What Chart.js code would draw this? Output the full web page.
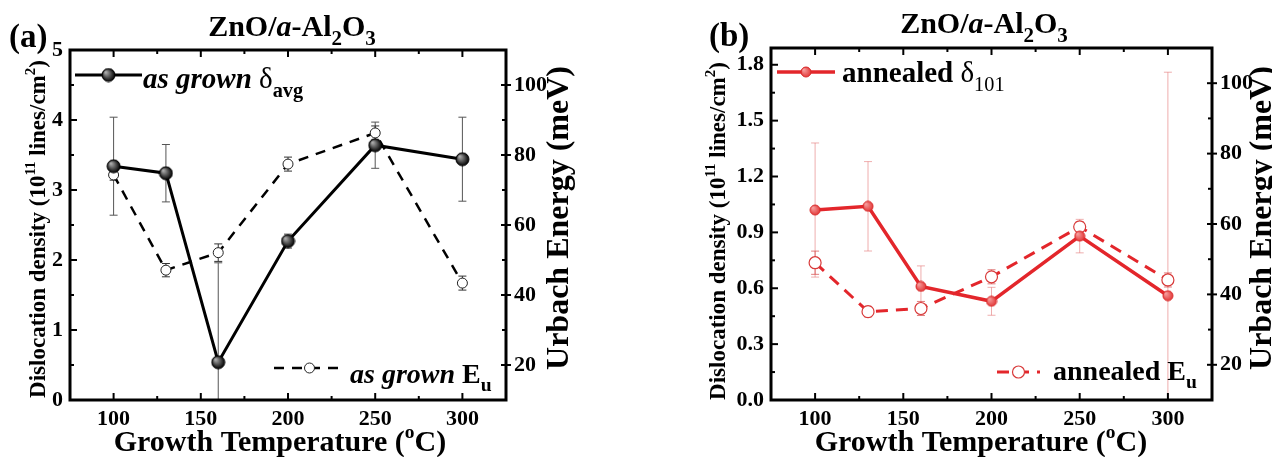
<!DOCTYPE html>
<html>
<head>
<meta charset="utf-8">
<script src="https://cdn.jsdelivr.net/npm/chart.js@4.4.1/dist/chart.umd.min.js"></script>
<style>
  html, body { margin: 0; padding: 0; background: #fff; }
  #wrap { position: relative; width: 1272px; height: 457px; overflow: hidden; }
  canvas { position: absolute; top: 0; }
  #cA { left: 0; }
  #cB { left: 636px; }
</style>
</head>
<body>
<div id="wrap">
  <canvas id="cA" width="636" height="457"></canvas>
  <canvas id="cB" width="636" height="457"></canvas>
</div>
<script>
/* ============================
   DATI
============================ */

const temps = [100, 130, 160, 200, 250, 300];

// (a) as grown
const grownDelta    = [3.34, 3.24, 0.54, 2.27, 3.64, 3.44];
const grownDeltaErr = [0.70, 0.41, 1.42, 0.10, 0.33, 0.60];
const grownEu       = [74.3, 47.1, 52.1, 77.4, 86.3, 43.4];
const grownEuErr    = [1.5, 1.9, 2.5, 2.0, 2.0, 2.0];

// (b) annealed
const annealedDelta    = [1.02, 1.04, 0.61, 0.53, 0.88, 0.56];
const annealedDeltaErr = [0.36, 0.24, 0.11, 0.075, 0.09, 1.20];
const annealedEu       = [49.0, 35.1, 36.0, 45.0, 59.2, 44.1];
const annealedEuErr    = [3.3, 1.5, 2.0, 2.0, 1.5, 2.0];

// assi
const xTicks     = [100, 150, 200, 250, 300];
const leftTicksA = [0, 1, 2, 3, 4, 5];
const leftTicksB = [0, 0.3, 0.6, 0.9, 1.2, 1.5, 1.8];
const rightTicks = [20, 40, 60, 80, 100];

const SERIF = "'Liberation Serif', 'Times New Roman', serif";
const RED = '#e3262b';

/* ============================
   MARKER SFERICI
============================ */

function sphere(r, light, dark, edge) {
  const c = document.createElement('canvas');
  c.width = c.height = 2 * r + 2;
  const g = c.getContext('2d');
  const grad = g.createRadialGradient(r * 0.7, r * 0.7, 0.5, r + 1, r + 1, r);
  grad.addColorStop(0, light);
  grad.addColorStop(1, dark);
  g.fillStyle = grad;
  g.beginPath();
  g.arc(r + 1, r + 1, r, 0, Math.PI * 2);
  g.fill();
  g.strokeStyle = edge;
  g.lineWidth = 1;
  g.stroke();
  return c;
}

const ballBlack = sphere(6.5, '#b0b0b0', '#000', '#000');
const ballRed = sphere(5, '#f6a0a0', '#e33a3a', '#d82a2a');

/* ============================
   TESTO RICCO (pedici / apici)
============================ */

function richText(ctx, parts, x, y, size, align, rotate) {
  const items = parts.map(([t, style, mode]) => {
    let fs = size, dy = 0;
    if (mode === 'sub') { fs = size * 0.7; dy = size * 0.3; }
    if (mode === 'sup') { fs = size * 0.65; dy = -size * 0.42; }
    const font = `${style} ${fs}px ${SERIF}`;
    ctx.font = font;
    return { t, font, dy, w: ctx.measureText(t).width };
  });
  const total = items.reduce((s, it) => s + it.w, 0);
  ctx.save();
  ctx.translate(x, y);
  if (rotate) ctx.rotate(-Math.PI / 2);
  let cx = align === 'center' ? -total / 2 : 0;
  ctx.fillStyle = '#000';
  ctx.textBaseline = 'alphabetic';
  ctx.textAlign = 'left';
  items.forEach(it => {
    ctx.font = it.font;
    ctx.fillText(it.t, cx, it.dy);
    cx += it.w;
  });
  ctx.restore();
}

/* ============================
   PANNELLI
============================ */

const titleParts = [['ZnO/', 'bold'], ['a', 'bold italic'], ['-Al', 'bold'], ['2', 'bold', 'sub'], ['O', 'bold'], ['3', 'bold', 'sub']];
const yLeftParts = [['Dislocation density (10', 'bold'], ['11', 'bold', 'sup'], [' lines/cm', 'bold'], ['2', 'bold', 'sup'], [')', 'bold']];
const yRightParts = [['Urbach Energy (meV)', 'bold']];
const xParts = [['Growth Temperature (', 'bold'], ['o', 'bold', 'sup'], ['C)', 'bold']];

const panels = {
  cA: {
    offset: 0,
    area: { left: 70, right: 506, top: 50, bottom: 400 },
    leftTicks: leftTicksA, leftMax: 5, leftFmt: v => String(v),
    errColors: ['#555', '#333'],
    texts: [
      { parts: [['(a)', 'bold']], x: 9, y: 47, size: 33, align: 'left' },
      { parts: titleParts, x: 292, y: 36, size: 30, align: 'center' },
      { parts: yLeftParts, x: 45, y: 229, size: 23, align: 'center', rotate: true },
      { parts: yRightParts, x: 568, y: 218, size: 32, align: 'center', rotate: true },
      { parts: xParts, x: 280, y: 451, size: 30, align: 'center' },
      { parts: [['as grown ', 'bold italic'], ['δ', 'normal'], ['avg', 'bold', 'sub']], x: 143, y: 88, size: 29, align: 'left' },
      { parts: [['as grown ', 'bold italic'], ['E', 'bold'], ['u', 'bold', 'sub']], x: 350, y: 383, size: 28, align: 'left' }
    ],
    legend: [
      { x1: 75, x2: 142, y: 75, ds: 0 },
      { x1: 274, x2: 345, y: 368, ds: 1 }
    ]
  },
  cB: {
    offset: 636,
    area: { left: 135, right: 576, top: 48, bottom: 400 },
    leftTicks: leftTicksB, leftMax: 1.89, leftFmt: v => v.toFixed(1),
    errColors: ['rgba(228,120,120,0.6)', 'rgba(215,80,80,0.75)'],
    texts: [
      { parts: [['(b)', 'bold']], x: 709, y: 46, size: 33, align: 'left' },
      { parts: titleParts, x: 984, y: 33, size: 30, align: 'center' },
      { parts: yLeftParts, x: 725, y: 231, size: 23, align: 'center', rotate: true },
      { parts: yRightParts, x: 1271, y: 218, size: 32, align: 'center', rotate: true },
      { parts: xParts, x: 981, y: 451, size: 30, align: 'center' },
      { parts: [['annealed ', 'bold'], ['δ', 'normal'], ['101', 'normal', 'sub']], x: 842, y: 82, size: 29, align: 'left' },
      { parts: [['annealed E', 'bold'], ['u', 'bold', 'sub']], x: 1053, y: 380, size: 28, align: 'left' }
    ],
    legend: [
      { x1: 777, x2: 835, y: 72, ds: 0 },
      { x1: 997, x2: 1040, y: 372, ds: 1 }
    ]
  }
};

/* ============================
   PLUGIN: barre d'errore, cornice, tacche, testi
============================ */

function mids(arr, lo, hi) {
  const step = arr[1] - arr[0];
  const out = [];
  for (let v = arr[0] - step / 2; v <= hi + 1e-9; v += step) {
    if (v >= lo - 1e-9) out.push(v);
  }
  return out;
}

const decor = {
  id: 'decor',
  beforeDatasetsDraw(chart) {
    const p = panels[chart.canvas.id];
    const ctx = chart.ctx;
    const a = chart.chartArea;
    ctx.save();
    ctx.beginPath();
    ctx.rect(a.left, a.top, a.right - a.left, a.bottom - a.top);
    ctx.clip();
    chart.data.datasets.forEach((ds, i) => {
      const ys = chart.scales[ds.yAxisID];
      ctx.strokeStyle = p.errColors[i];
      ctx.lineWidth = 1;
      ds.data.forEach((pt, j) => {
        const e = ds.errs[j];
        const x = chart.scales.x.getPixelForValue(pt.x);
        const y1 = ys.getPixelForValue(pt.y + e);
        const y2 = ys.getPixelForValue(pt.y - e);
        ctx.beginPath();
        ctx.moveTo(x, y1); ctx.lineTo(x, y2);
        ctx.moveTo(x - 4, y1); ctx.lineTo(x + 4, y1);
        ctx.moveTo(x - 4, y2); ctx.lineTo(x + 4, y2);
        ctx.stroke();
      });
    });
    ctx.restore();
  },
  afterDraw(chart) {
    const p = panels[chart.canvas.id];
    const ctx = chart.ctx;
    const a = chart.chartArea;
    const s = chart.scales;

    ctx.save();
    ctx.strokeStyle = '#000';

    // tacche
    ctx.lineWidth = 2;
    const line = (x1, y1, x2, y2) => { ctx.beginPath(); ctx.moveTo(x1, y1); ctx.lineTo(x2, y2); ctx.stroke(); };
    xTicks.forEach(v => {
      const px = s.x.getPixelForValue(v);
      line(px, a.bottom, px, a.bottom - 7);
      line(px, a.top, px, a.top + 7);
    });
    mids(xTicks, 76, 324).forEach(v => {
      const px = s.x.getPixelForValue(v);
      line(px, a.bottom, px, a.bottom - 4);
      line(px, a.top, px, a.top + 4);
    });
    p.leftTicks.forEach(v => {
      const py = s.y.getPixelForValue(v);
      line(a.left, py, a.left + 7, py);
    });
    mids(p.leftTicks, 0.01, p.leftMax - 0.01).forEach(v => {
      const py = s.y.getPixelForValue(v);
      line(a.left, py, a.left + 4, py);
    });
    rightTicks.forEach(v => {
      const py = s.y1.getPixelForValue(v);
      line(a.right - 5, py, a.right + 5, py);
    });
    mids(rightTicks, 11, 109).forEach(v => {
      const py = s.y1.getPixelForValue(v);
      line(a.right - 4, py, a.right, py);
    });

    // cornice
    ctx.lineWidth = 3;
    ctx.strokeRect(a.left, a.top, a.right - a.left, a.bottom - a.top);

    // testi e legenda (coordinate globali)
    ctx.translate(-p.offset, 0);
    p.texts.forEach(t => richText(ctx, t.parts, t.x, t.y, t.size, t.align, t.rotate));

    p.legend.forEach(l => {
      const ds = chart.data.datasets[l.ds];
      ctx.strokeStyle = ds.borderColor;
      ctx.lineWidth = ds.borderWidth;
      ctx.setLineDash(ds.borderDash || []);
      line(l.x1, l.y, l.x2, l.y);
      ctx.setLineDash([]);
      const xm = (l.x1 + l.x2) / 2;
      if (typeof ds.pointStyle === 'object') {
        ctx.drawImage(ds.pointStyle, xm - ds.pointStyle.width / 2, l.y - ds.pointStyle.height / 2);
      } else {
        ctx.fillStyle = ds.pointBackgroundColor;
        ctx.strokeStyle = ds.pointBorderColor;
        ctx.lineWidth = ds.pointBorderWidth;
        ctx.beginPath();
        ctx.arc(xm, l.y, ds.pointRadius, 0, Math.PI * 2);
        ctx.fill();
        ctx.stroke();
      }
    });
    ctx.restore();
  }
};

/* ============================
   GRAFICI
============================ */

function pts(values) {
  return temps.map((t, i) => ({ x: t, y: values[i] }));
}

function makeChart(id, datasets) {
  const p = panels[id];
  const W = 636, H = 457;
  const tickFont = { family: SERIF, size: 22, weight: 'bold' };
  return new Chart(document.getElementById(id), {
    type: 'line',
    data: { datasets },
    options: {
      responsive: false,
      animation: false,
      layout: { padding: { top: p.area.top, left: 0, right: 0, bottom: 0 } },
      plugins: { legend: { display: false }, tooltip: { enabled: false } },
      scales: {
        x: {
          type: 'linear', min: 75, max: 325,
          grid: { display: false, drawTicks: false }, border: { display: false },
          ticks: { font: tickFont, color: '#000', padding: 6 },
          afterBuildTicks: ax => { ax.ticks = xTicks.map(v => ({ value: v })); },
          afterFit: ax => { ax.height = H - p.area.bottom; }
        },
        y: {
          position: 'left', min: 0, max: p.leftMax,
          grid: { display: false, drawTicks: false }, border: { display: false },
          ticks: { font: tickFont, color: '#000', padding: 7, callback: v => p.leftFmt(v) },
          afterBuildTicks: ax => { ax.ticks = p.leftTicks.map(v => ({ value: v })); },
          afterFit: ax => { ax.width = p.area.left; }
        },
        y1: {
          position: 'right', min: 10, max: 110,
          grid: { display: false, drawTicks: false }, border: { display: false },
          ticks: { font: tickFont, color: '#000', padding: 8 },
          afterBuildTicks: ax => { ax.ticks = rightTicks.map(v => ({ value: v })); },
          afterFit: ax => { ax.width = W - p.area.right; }
        }
      }
    },
    plugins: [decor]
  });
}

makeChart('cA', [
  {
    data: pts(grownDelta), errs: grownDeltaErr, yAxisID: 'y',
    borderColor: '#000', borderWidth: 3, tension: 0,
    pointStyle: ballBlack, pointRadius: 7
  },
  {
    data: pts(grownEu), errs: grownEuErr, yAxisID: 'y1',
    borderColor: '#000', borderWidth: 2.5, borderDash: [10, 8], tension: 0,
    pointStyle: 'circle', pointRadius: 5,
    pointBackgroundColor: '#fff', pointBorderColor: '#222', pointBorderWidth: 1
  }
]);

makeChart('cB', [
  {
    data: pts(annealedDelta), errs: annealedDeltaErr, yAxisID: 'y',
    borderColor: RED, borderWidth: 3.5, tension: 0,
    pointStyle: ballRed, pointRadius: 5
  },
  {
    data: pts(annealedEu), errs: annealedEuErr, yAxisID: 'y1',
    borderColor: RED, borderWidth: 3, borderDash: [12, 8], tension: 0,
    pointStyle: 'circle', pointRadius: 6,
    pointBackgroundColor: '#fff', pointBorderColor: '#d83a3a', pointBorderWidth: 1.2
  }
]);
</script>
</body>
</html>
